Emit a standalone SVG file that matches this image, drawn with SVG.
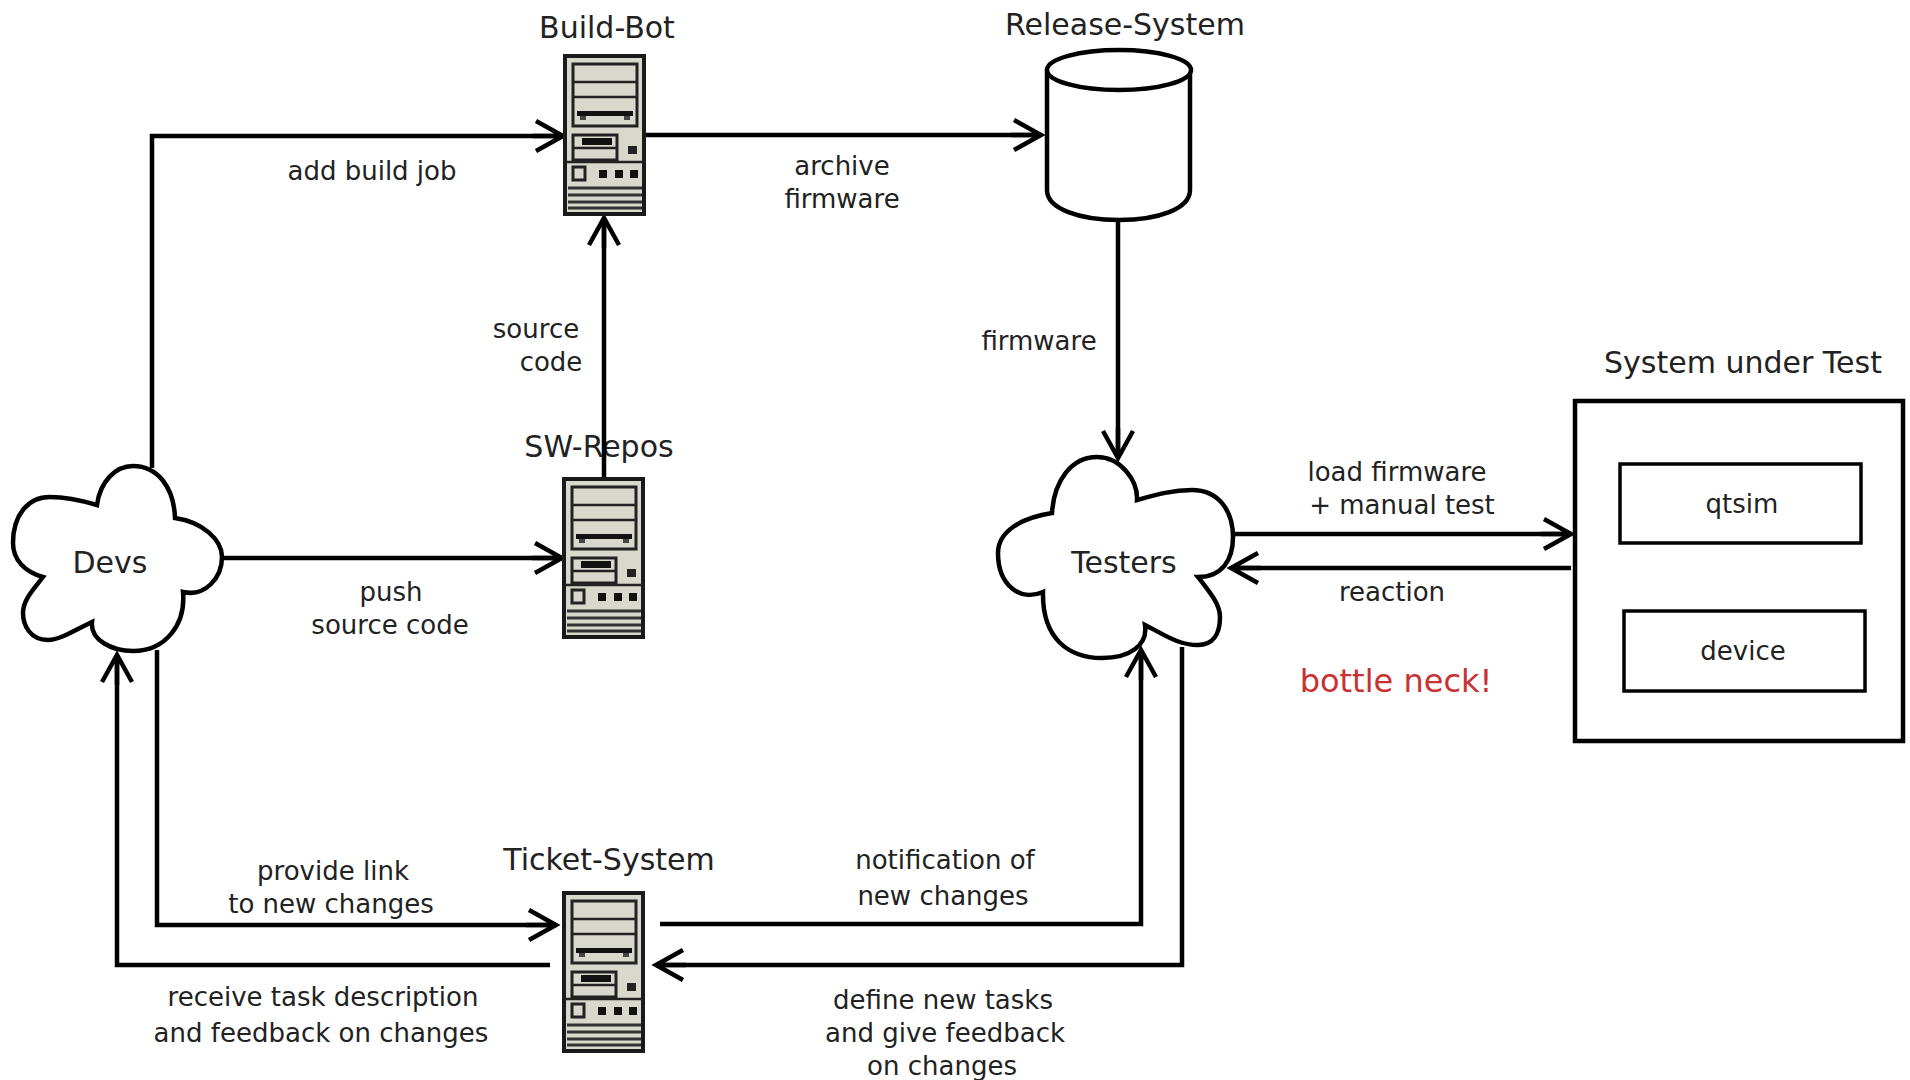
<svg xmlns="http://www.w3.org/2000/svg" xmlns:xlink="http://www.w3.org/1999/xlink" width="1910" height="1080" viewBox="0 0 1910 1080">
<style>
text{font-family:"DejaVu Sans",sans-serif;fill:#222;text-anchor:middle}
.l{font-size:26px}
.t{font-size:30px}
.c{fill:none;stroke:#000;stroke-width:4.5}
.s{fill:#fff;stroke:#000;stroke-width:4.5}
.b{fill:#fff;stroke:#000;stroke-width:3.5}
</style>
<defs>
<marker id="a" markerUnits="userSpaceOnUse" markerWidth="40" markerHeight="40" refX="30" refY="20" orient="auto"><path d="M3 5 L30 20 L3 35 M30 20H0" fill="none" stroke="#000" stroke-width="4.5"/></marker>
<g id="srv">
<rect x="1" y="1" width="79" height="158" fill="#d8d8cc" stroke="#1a1a1a" stroke-width="4"/>
<rect x="9" y="9" width="64" height="62" fill="#d8d8cc" stroke="#222" stroke-width="3"/>
<path d="M9 27H73M9 42H73" stroke="#222" stroke-width="2.5"/>
<rect x="13" y="56" width="56" height="5" fill="#111"/>
<path d="M16 61h6v4h-6zM60 61h6v4h-6z" fill="#444"/>
<rect x="9" y="80" width="44" height="25" fill="#d8d8cc" stroke="#222" stroke-width="3"/>
<path d="M9 93H53" stroke="#222" stroke-width="2.5"/>
<rect x="18" y="83" width="30" height="7" fill="#111"/>
<rect x="64" y="91" width="9" height="8" fill="#222"/>
<path d="M1 107H80" stroke="#222" stroke-width="2.5"/>
<rect x="9" y="112" width="12" height="13" fill="#d8d8cc" stroke="#222" stroke-width="3"/>
<rect x="35" y="115" width="8" height="8" fill="#111"/><rect x="51" y="115" width="8" height="8" fill="#111"/><rect x="66" y="115" width="8" height="8" fill="#111"/>
<path d="M4 133H78M4 140H78M4 147H78M4 153H78" stroke="#333" stroke-width="3"/>
</g>
</defs>
<rect width="1910" height="1080" fill="#fff"/>
<g id="labels-titles">
<text class="t" x="607" y="38">Build-Bot</text>
<text class="t" x="1125" y="35">Release-System</text>
<text class="t" x="1743" y="373">System under Test</text>
<text class="t" x="599" y="457">SW-Repos</text>
<text class="t" x="609" y="870">Ticket-System</text>
</g>
<g id="connectors">
<path class="c" marker-end="url(#a)" d="M152 468V136H563"/>
<path class="c" marker-end="url(#a)" d="M646 135H1041"/>
<path class="c" marker-end="url(#a)" d="M1118 222V458"/>
<path class="c" marker-end="url(#a)" d="M604 478V218"/>
<path class="c" marker-end="url(#a)" d="M223 558H562"/>
<path class="c" marker-end="url(#a)" d="M550 965H117V655"/>
<path class="c" marker-end="url(#a)" d="M157 650V925H556"/>
<path class="c" marker-end="url(#a)" d="M660 924H1141V650"/>
<path class="c" marker-end="url(#a)" d="M1182 647V965H656"/>
<path class="c" marker-end="url(#a)" d="M1233 534H1571"/>
<path class="c" marker-end="url(#a)" d="M1571 568H1231"/>
</g>
<g id="build-bot"><use xlink:href="#srv" href="#srv" x="564" y="55"/></g>
<g id="sw-repos"><use xlink:href="#srv" href="#srv" x="563" y="478"/></g>
<g id="ticket-system"><use xlink:href="#srv" href="#srv" x="563" y="892"/></g>
<g id="release-system">
<path class="s" d="M1047 70V190C1047 209 1080 220 1119 220S1190 209 1190 190V70"/>
<ellipse class="s" cx="1119" cy="70" rx="72" ry="20"/>
</g>
<g id="devs">
<path class="s" d="M97 505C100 482 115 466 133 466C158 466 174 488 175 518C203 522 222 540 222 557C222 578 205 597 183 592C186 625 165 651 133 651C112 651 90 640 92 622C75 630 60 640 48 640C30 640 23 625 23 613C23 600 33 590 43 577C25 572 13 560 13 543C13 515 28 497 50 497C65 497 80 500 97 505Z"/>
<text class="t" x="110" y="573">Devs</text>
</g>
<g id="testers">
<path class="s" d="M1052 513C1054 480 1072 457 1097 457C1120 457 1138 480 1137 500C1155 495 1172 490 1192 490C1218 490 1233 510 1233 537C1233 560 1222 577 1198 577C1212 595 1220 605 1220 617C1220 635 1212 645 1198 645C1178 645 1165 635 1145 625C1148 645 1130 658 1102 658C1070 658 1042 640 1043 592C1020 602 998 585 998 553C998 532 1020 518 1052 513Z"/>
<text class="t" x="1124" y="573">Testers</text>
</g>
<g id="system-under-test">
<rect x="1575" y="401" width="328" height="340" fill="#fff" stroke="#000" stroke-width="4.5"/>
</g>
<g id="qtsim"><rect class="b" x="1620" y="464" width="241" height="79"/><text class="l" x="1742" y="513">qtsim</text></g>
<g id="device"><rect class="b" x="1624" y="611" width="241" height="80"/><text class="l" x="1743" y="660">device</text></g>
<g id="connector-labels">
<text class="l" x="372" y="180">add build job</text>
<text class="l" x="842" y="175">archive</text>
<text class="l" x="842" y="208">firmware</text>
<text class="l" x="536" y="338">source</text>
<text class="l" x="551" y="371">code</text>
<text class="l" x="1039" y="350">firmware</text>
<text class="l" x="391" y="601">push</text>
<text class="l" x="390" y="634">source code</text>
<text class="l" x="1397" y="481">load firmware</text>
<text class="l" x="1402" y="514">+ manual test</text>
<text class="l" x="1392" y="601">reaction</text>
<text x="1396" y="692" font-size="32" style="fill:#c83232">bottle neck!</text>
<text class="l" x="333" y="880">provide link</text>
<text class="l" x="331" y="913">to new changes</text>
<text class="l" x="323" y="1006">receive task description</text>
<text class="l" x="321" y="1042">and feedback on changes</text>
<text class="l" x="945" y="869">notification of</text>
<text class="l" x="943" y="905">new changes</text>
<text class="l" x="943" y="1009">define new tasks</text>
<text class="l" x="945" y="1042">and give feedback</text>
<text class="l" x="942" y="1075">on changes</text>
</g>
</svg>
